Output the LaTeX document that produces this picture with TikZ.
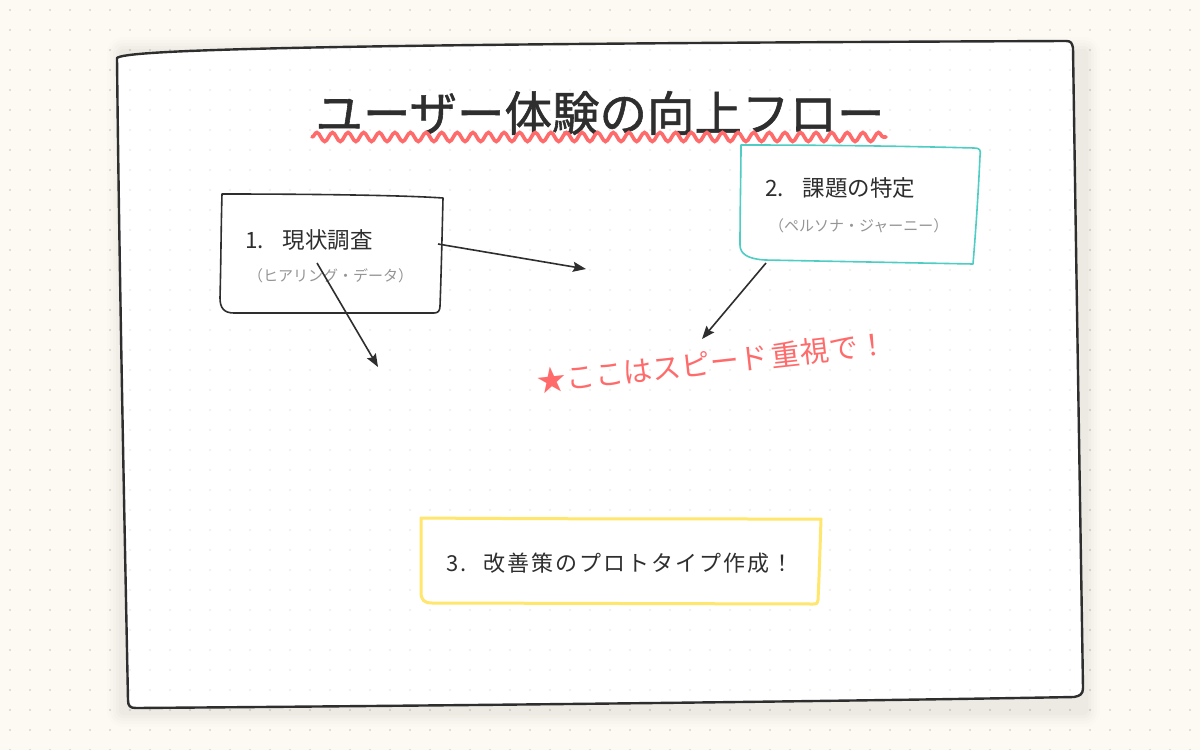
\documentclass[tikz,border=0pt]{standalone}
\usepackage{fontspec}
\setmainfont{Noto Sans CJK JP}
\newfontfamily\jpfont{Noto Sans CJK JP}
\newfontfamily\jpwide[LetterSpace=9]{Noto Sans CJK JP}
\newfontfamily\titlefont[FakeBold=1.2]{Noto Sans CJK JP}
\usetikzlibrary{arrows.meta,decorations.pathmorphing}
\definecolor{bgcream}{HTML}{FCFAF3}
\definecolor{dotgray}{HTML}{D9D6CE}
\definecolor{dotin}{HTML}{EFEEEA}
\definecolor{ink}{HTML}{2E2E2E}
\definecolor{subgray}{HTML}{959595}
\definecolor{accred}{HTML}{FF6B6B}
\definecolor{accteal}{HTML}{4ECDC4}
\definecolor{accyellow}{HTML}{FFE66D}
\tikzset{
  cardline/.style={draw=ink, line width=2.4pt, line join=round},
  boxline/.style={line width=1.6pt, line join=round, fill=white},
  maintext/.style={anchor=west, inner sep=0pt, text=ink, font=\jpfont\fontsize{22.5}{26}\selectfont},
  subtext/.style={anchor=west, inner sep=0pt, text=subgray, font=\jpfont\fontsize{15}{17}\selectfont},
  flowarrow/.style={draw=ink, line width=1.6pt, -{Stealth[length=13pt,width=10pt,inset=2pt]}},
}
\begin{document}
\begin{tikzpicture}[x=1pt,y=-1pt]
\useasboundingbox (0,0) rectangle (1200,750);
\fill[bgcream] (0,0) rectangle (1200,750);
% dot grid
\foreach \i in {0,...,59}{
  \foreach \j in {0,...,37}{
    \fill[dotgray] ({10+20*\i},{10+20*\j}) circle (1.1pt);
  }
}
% soft shadow
\foreach \k/\o in {16/0.008,13/0.01,10/0.012,7/0.014,4/0.016}{
  \fill[black,opacity=\o,rounded corners=\k pt] ({120-\k+3},{48-\k+5}) rectangle ({1081+\k+3},{706+\k+5});
}
% card
\def\cardpath{(117,58) .. controls (125,50) and (300,44) .. (1066,41)
  .. controls (1071,41) and (1072,43) .. (1073,48)
  .. controls (1076,250) and (1080,500) .. (1083,688)
  .. controls (1083,694) and (1080,696) .. (1074,697)
  .. controls (800,702) and (400,706) .. (136,708)
  .. controls (130,708) and (128,706) .. (128,700)
  .. controls (124,500) and (119,250) .. (117,58) -- cycle}
\fill[white] \cardpath;
\begin{scope}
\clip \cardpath;
\foreach \i in {5,...,54}{
  \foreach \j in {1,...,35}{
    \fill[dotin] ({10+20*\i},{10+20*\j}) circle (1.1pt);
  }
}
\end{scope}
\draw[cardline] \cardpath;
% title
\node[inner sep=0pt, text=ink, font=\titlefont\fontsize{47.5}{52}\selectfont] (title) at (600,113) {ユーザー体験の向上フロー};
\draw[accred, line width=3.6pt, line cap=round, decorate,
  decoration={snake, segment length=15.6pt, amplitude=4.5pt}] (312,137) -- (886,137);
% box 1
\path[boxline, draw=ink]
  (222,194) .. controls (300,194) and (400,195) .. (443,198)
  .. controls (442,240) and (441,280) .. (440,306)
  .. controls (440,311) and (438,313) .. (434,313)
  -- (234,313)
  .. controls (224,313) and (220,308) .. (220,298)
  .. controls (221,260) and (221,230) .. (222,194) -- cycle;
\node[maintext] (t1) at (245,240) {1.\hspace{19pt}現状調査};
\node[subtext] (s1) at (248,276) {（ヒアリング・データ）};
% box 2
\path[boxline, draw=accteal]
  (741,145) .. controls (820,145) and (900,146) .. (974,148)
  .. controls (980,148) and (981,150) .. (980,156)
  .. controls (978,200) and (975,240) .. (973,264)
  -- (765,260)
  .. controls (748,259) and (740,254) .. (740,245)
  .. controls (740,210) and (741,170) .. (741,145) -- cycle;
\node[maintext] (t2) at (765,188) {2.\hspace{19pt}課題の特定};
\node[subtext] (s2) at (769,226) {（ペルソナ・ジャーニー）};
% box 3
\path[boxline, draw=accyellow, line width=3pt]
  (421,518) .. controls (550,519) and (700,519) .. (821,519)
  .. controls (820,550) and (819,580) .. (818,600)
  .. controls (818,603) and (817,604) .. (813,604)
  -- (432,603)
  .. controls (424,603) and (421,600) .. (421,592)
  .. controls (421,560) and (421,540) .. (421,518) -- cycle;
\node[maintext, font=\jpwide\fontsize{22}{26}\selectfont] (t3) at (446,563) {3.\hspace{17pt}改善策のプロトタイプ作成！};
% arrows
\coordinate (a1s) at (438,244);
\coordinate (a1e) at (586,269);
\coordinate (a2s) at (317,263);
\coordinate (a2e) at (378,367);
\coordinate (a3s) at (766,263);
\coordinate (a3e) at (702,339);
\draw[flowarrow] (a1s) -- (a1e);
\draw[flowarrow] (a2s) -- (a2e);
\draw[flowarrow] (a3s) -- (a3e);
% note
\node[anchor=west, inner sep=0pt, rotate=6.3, text=accred, font=\jpfont\fontsize{29}{33}\selectfont] (note) at (537,382) {★ここはスピード\hspace{4pt}重視で！};
\end{tikzpicture}
\end{document}
